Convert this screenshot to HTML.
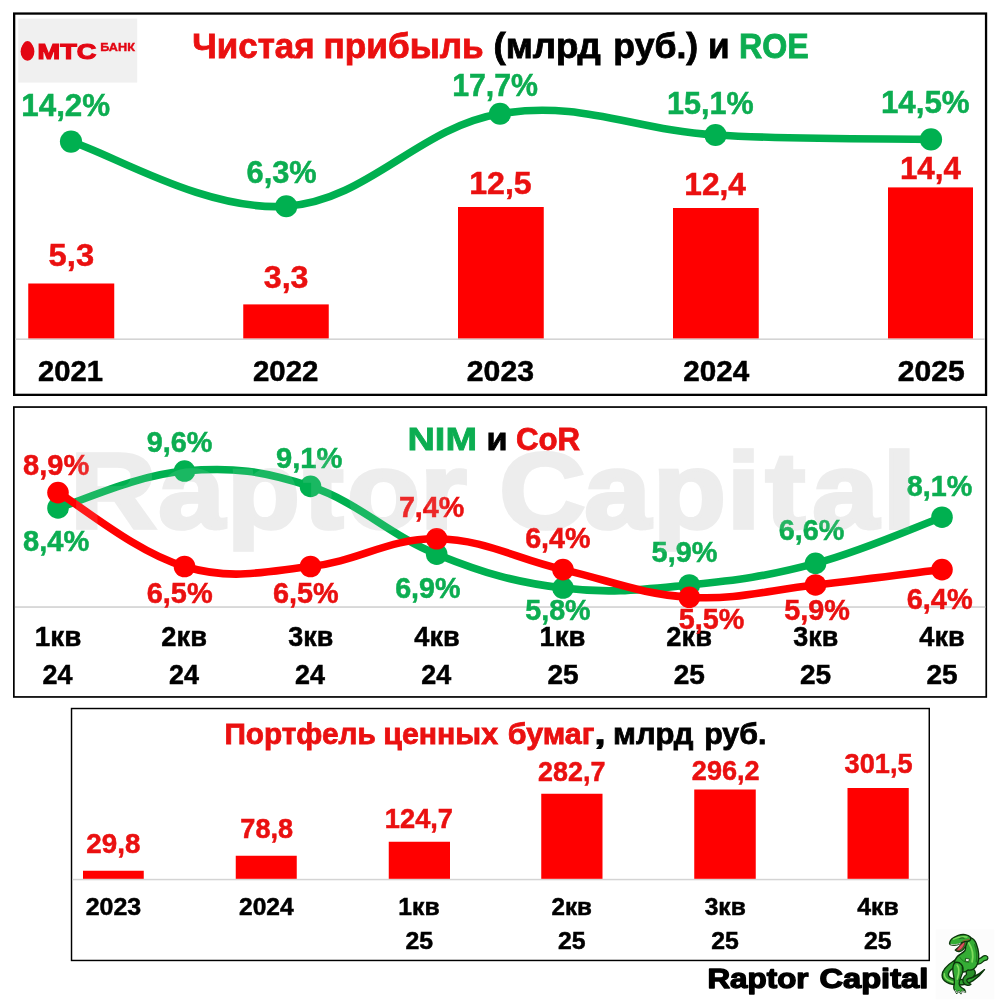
<!DOCTYPE html>
<html lang="ru"><head><meta charset="utf-8"><title>МТС Банк</title>
<style>
html,body{margin:0;padding:0;background:#fff;}
svg{display:block;}
text{font-family:"Liberation Sans",sans-serif;font-weight:700;}
</style></head><body>
<svg width="1000" height="1000" viewBox="0 0 1000 1000">

<rect width="1000" height="1000" fill="#fff"/>
<text transform="scale(1.12 1)" x="62.84 141.36 202.74 271.14 309.88 375.29 418.67 445.85 521.68 583.06 649.04 683.57 725.24 788.28" y="527.70" font-size="106.69" fill="#ebebeb" stroke="#ebebeb" stroke-width="3.6" stroke-linejoin="miter">Raptor Capital</text>
<rect x="14.15" y="13.55" width="971.90" height="381.30" fill="none" stroke="#000" stroke-width="2.3"/>
<rect x="18.30" y="18.60" width="118.90" height="64.00" fill="#f0f0f0"/>
<ellipse cx="27.5" cy="51.5" rx="6.9" ry="9.3" fill="#e30613"/>
<ellipse cx="27.5" cy="48" rx="5.2" ry="7" fill="#e30613"/>
<text x="37.61" y="58.70" font-size="22.67" textLength="58.76" lengthAdjust="spacingAndGlyphs" fill="#e30613" stroke="#e30613" stroke-width="1.2">МТС</text>
<text x="100.28" y="50.60" font-size="11.34" textLength="34.61" lengthAdjust="spacingAndGlyphs" fill="#e30613" stroke="#e30613" stroke-width="0.4">БАНК</text>
<text x="192.33" y="58.20" font-size="34.30" textLength="122.30" lengthAdjust="spacingAndGlyphs" fill="#ea1010" stroke="#ea1010" stroke-width="0.8">Чистая</text>
<text x="323.54" y="58.20" font-size="34.30" textLength="160.16" lengthAdjust="spacingAndGlyphs" fill="#ea1010" stroke="#ea1010" stroke-width="0.8">прибыль</text>
<text x="493.45" y="58.20" font-size="34.30" textLength="107.31" lengthAdjust="spacingAndGlyphs" fill="#000000" stroke="#000000" stroke-width="0.8">(млрд</text>
<text x="613.35" y="58.20" font-size="34.30" textLength="84.87" lengthAdjust="spacingAndGlyphs" fill="#000000" stroke="#000000" stroke-width="0.8">руб.)</text>
<text x="707.95" y="58.20" font-size="34.30" textLength="21.62" lengthAdjust="spacingAndGlyphs" fill="#000000" stroke="#000000" stroke-width="0.8">и</text>
<text x="739.01" y="58.20" font-size="35.17" textLength="69.78" lengthAdjust="spacingAndGlyphs" fill="#0cad51" stroke="#0cad51" stroke-width="0.8">ROE</text>
<rect x="15.40" y="338.40" width="969.60" height="1.60" fill="#d4d4d4"/>
<rect x="28.25" y="283.50" width="86.00" height="54.90" fill="#ff0000"/>
<rect x="243.25" y="304.40" width="85.50" height="34.00" fill="#ff0000"/>
<rect x="458.00" y="207.00" width="85.75" height="131.40" fill="#ff0000"/>
<rect x="673.00" y="208.00" width="85.75" height="130.40" fill="#ff0000"/>
<rect x="888.00" y="187.40" width="85.00" height="151.00" fill="#ff0000"/>
<text x="48.62" y="266.20" font-size="31.98" textLength="45.51" lengthAdjust="spacingAndGlyphs" fill="#ea1010" stroke="#ea1010" stroke-width="0.5">5,3</text>
<text x="263.81" y="288.00" font-size="31.98" textLength="44.67" lengthAdjust="spacingAndGlyphs" fill="#ea1010" stroke="#ea1010" stroke-width="0.5">3,3</text>
<text x="469.23" y="193.75" font-size="31.98" textLength="62.51" lengthAdjust="spacingAndGlyphs" fill="#ea1010" stroke="#ea1010" stroke-width="0.5">12,5</text>
<text x="684.25" y="195.00" font-size="31.98" textLength="61.70" lengthAdjust="spacingAndGlyphs" fill="#ea1010" stroke="#ea1010" stroke-width="0.5">12,4</text>
<text x="899.89" y="178.50" font-size="31.98" textLength="61.02" lengthAdjust="spacingAndGlyphs" fill="#ea1010" stroke="#ea1010" stroke-width="0.5">14,4</text>
<text x="38.00" y="381.00" font-size="29.07" textLength="64.95" lengthAdjust="spacingAndGlyphs" fill="#000000" stroke="#000000" stroke-width="0.5">2021</text>
<text x="252.99" y="381.00" font-size="29.07" textLength="65.40" lengthAdjust="spacingAndGlyphs" fill="#000000" stroke="#000000" stroke-width="0.5">2022</text>
<text x="466.82" y="381.00" font-size="29.07" textLength="67.23" lengthAdjust="spacingAndGlyphs" fill="#000000" stroke="#000000" stroke-width="0.5">2023</text>
<text x="683.24" y="381.00" font-size="29.07" textLength="65.98" lengthAdjust="spacingAndGlyphs" fill="#000000" stroke="#000000" stroke-width="0.5">2024</text>
<text x="897.73" y="381.00" font-size="29.07" textLength="67.00" lengthAdjust="spacingAndGlyphs" fill="#000000" stroke="#000000" stroke-width="0.5">2025</text>
<path d="M71.00,141.60 C111.90,153.88 204.74,211.54 286.25,206.25 C367.76,200.96 418.44,127.29 500.00,113.75 C581.56,100.21 633.61,130.13 715.50,135.00 C797.39,139.87 890.05,138.56 931.00,139.40" fill="none" stroke="#00b050" stroke-width="7.6" stroke-linecap="round" stroke-linejoin="round"/>
<circle cx="71.00" cy="141.60" r="11.1" fill="#00b050"/>
<circle cx="286.25" cy="206.25" r="11.1" fill="#00b050"/>
<circle cx="500.00" cy="113.75" r="11.1" fill="#00b050"/>
<circle cx="715.50" cy="135.00" r="11.1" fill="#00b050"/>
<circle cx="931.00" cy="139.40" r="11.1" fill="#00b050"/>
<text x="21.29" y="116.00" font-size="31.98" textLength="88.88" lengthAdjust="spacingAndGlyphs" fill="#0cad51" stroke="#0cad51" stroke-width="0.5">14,2%</text>
<text x="246.59" y="182.50" font-size="31.98" textLength="70.16" lengthAdjust="spacingAndGlyphs" fill="#0cad51" stroke="#0cad51" stroke-width="0.5">6,3%</text>
<text x="452.14" y="96.25" font-size="31.98" textLength="85.92" lengthAdjust="spacingAndGlyphs" fill="#0cad51" stroke="#0cad51" stroke-width="0.5">17,7%</text>
<text x="667.11" y="113.75" font-size="31.98" textLength="86.65" lengthAdjust="spacingAndGlyphs" fill="#0cad51" stroke="#0cad51" stroke-width="0.5">15,1%</text>
<text x="880.89" y="113.00" font-size="31.98" textLength="88.82" lengthAdjust="spacingAndGlyphs" fill="#0cad51" stroke="#0cad51" stroke-width="0.5">14,5%</text>
<rect x="13.85" y="407.05" width="972.40" height="289.90" fill="none" stroke="#000" stroke-width="1.7"/>
<rect x="15.00" y="606.20" width="970.30" height="1.70" fill="#d4d4d4"/>
<text x="407.46" y="450.00" font-size="32.27" textLength="69.54" lengthAdjust="spacingAndGlyphs" fill="#0cad51" stroke="#0cad51" stroke-width="0.8">NIM</text>
<text x="486.47" y="450.00" font-size="31.10" textLength="21.07" lengthAdjust="spacingAndGlyphs" fill="#000000" stroke="#000000" stroke-width="0.8">и</text>
<text x="515.97" y="450.00" font-size="32.27" textLength="64.22" lengthAdjust="spacingAndGlyphs" fill="#ea1010" stroke="#ea1010" stroke-width="0.8">CoR</text>
<text x="34.86" y="646.30" font-size="28.34" textLength="46.55" lengthAdjust="spacingAndGlyphs" fill="#000000" stroke="#000000" stroke-width="0.5">1кв</text>
<text x="161.33" y="646.30" font-size="28.34" textLength="45.62" lengthAdjust="spacingAndGlyphs" fill="#000000" stroke="#000000" stroke-width="0.5">2кв</text>
<text x="288.36" y="646.30" font-size="28.34" textLength="44.96" lengthAdjust="spacingAndGlyphs" fill="#000000" stroke="#000000" stroke-width="0.5">3кв</text>
<text x="414.32" y="646.30" font-size="28.34" textLength="45.37" lengthAdjust="spacingAndGlyphs" fill="#000000" stroke="#000000" stroke-width="0.5">4кв</text>
<text x="539.62" y="646.30" font-size="28.34" textLength="45.87" lengthAdjust="spacingAndGlyphs" fill="#000000" stroke="#000000" stroke-width="0.5">1кв</text>
<text x="666.33" y="646.30" font-size="28.34" textLength="45.62" lengthAdjust="spacingAndGlyphs" fill="#000000" stroke="#000000" stroke-width="0.5">2кв</text>
<text x="793.36" y="646.30" font-size="28.34" textLength="44.96" lengthAdjust="spacingAndGlyphs" fill="#000000" stroke="#000000" stroke-width="0.5">3кв</text>
<text x="919.32" y="646.30" font-size="28.34" textLength="45.37" lengthAdjust="spacingAndGlyphs" fill="#000000" stroke="#000000" stroke-width="0.5">4кв</text>
<text x="42.55" y="683.70" font-size="28.34" textLength="29.94" lengthAdjust="spacingAndGlyphs" fill="#000000" stroke="#000000" stroke-width="0.5">24</text>
<text x="169.05" y="683.70" font-size="28.34" textLength="29.94" lengthAdjust="spacingAndGlyphs" fill="#000000" stroke="#000000" stroke-width="0.5">24</text>
<text x="295.05" y="683.70" font-size="28.34" textLength="29.94" lengthAdjust="spacingAndGlyphs" fill="#000000" stroke="#000000" stroke-width="0.5">24</text>
<text x="421.25" y="683.70" font-size="28.34" textLength="29.94" lengthAdjust="spacingAndGlyphs" fill="#000000" stroke="#000000" stroke-width="0.5">24</text>
<text x="547.49" y="683.70" font-size="28.34" textLength="31.17" lengthAdjust="spacingAndGlyphs" fill="#000000" stroke="#000000" stroke-width="0.5">25</text>
<text x="673.79" y="683.70" font-size="28.34" textLength="31.17" lengthAdjust="spacingAndGlyphs" fill="#000000" stroke="#000000" stroke-width="0.5">25</text>
<text x="799.99" y="683.70" font-size="28.34" textLength="31.17" lengthAdjust="spacingAndGlyphs" fill="#000000" stroke="#000000" stroke-width="0.5">25</text>
<text x="926.49" y="683.70" font-size="28.34" textLength="31.17" lengthAdjust="spacingAndGlyphs" fill="#000000" stroke="#000000" stroke-width="0.5">25</text>
<path d="M58.00,507.98 C82.03,500.96 136.53,475.12 184.50,471.02 C232.47,466.92 262.58,470.62 310.50,486.42 C358.42,502.22 388.72,534.87 436.70,554.18 C484.68,573.49 515.01,582.21 563.00,588.06 C610.99,593.91 641.32,589.66 689.30,584.98 C737.27,580.30 767.49,576.29 815.50,563.42 C863.51,550.55 917.97,526.00 942.00,517.22" fill="none" stroke="#00b050" stroke-width="7.6" stroke-linecap="round" stroke-linejoin="round"/>
<circle cx="58.00" cy="507.98" r="10.8" fill="#00b050"/>
<circle cx="184.50" cy="471.02" r="10.8" fill="#00b050"/>
<circle cx="310.50" cy="486.42" r="10.8" fill="#00b050"/>
<circle cx="436.70" cy="554.18" r="10.8" fill="#00b050"/>
<circle cx="563.00" cy="588.06" r="10.8" fill="#00b050"/>
<circle cx="689.30" cy="584.98" r="10.8" fill="#00b050"/>
<circle cx="815.50" cy="563.42" r="10.8" fill="#00b050"/>
<circle cx="942.00" cy="517.22" r="10.8" fill="#00b050"/>
<text x="23.04" y="550.75" font-size="30.09" textLength="66.23" lengthAdjust="spacingAndGlyphs" fill="#0cad51" stroke="#0cad51" stroke-width="0.5">8,4%</text>
<text x="146.70" y="452.00" font-size="30.09" textLength="65.72" lengthAdjust="spacingAndGlyphs" fill="#0cad51" stroke="#0cad51" stroke-width="0.5">9,6%</text>
<text x="276.00" y="467.50" font-size="30.09" textLength="66.39" lengthAdjust="spacingAndGlyphs" fill="#0cad51" stroke="#0cad51" stroke-width="0.5">9,1%</text>
<text x="395.16" y="597.50" font-size="30.09" textLength="65.40" lengthAdjust="spacingAndGlyphs" fill="#0cad51" stroke="#0cad51" stroke-width="0.5">6,9%</text>
<text x="525.22" y="620.00" font-size="30.09" textLength="65.35" lengthAdjust="spacingAndGlyphs" fill="#0cad51" stroke="#0cad51" stroke-width="0.5">5,8%</text>
<text x="651.61" y="561.50" font-size="30.09" textLength="65.88" lengthAdjust="spacingAndGlyphs" fill="#0cad51" stroke="#0cad51" stroke-width="0.5">5,9%</text>
<text x="778.67" y="539.50" font-size="30.09" textLength="65.68" lengthAdjust="spacingAndGlyphs" fill="#0cad51" stroke="#0cad51" stroke-width="0.5">6,6%</text>
<text x="906.81" y="495.75" font-size="30.09" textLength="65.59" lengthAdjust="spacingAndGlyphs" fill="#0cad51" stroke="#0cad51" stroke-width="0.5">8,1%</text>
<text x="23.04" y="475.00" font-size="30.09" textLength="66.23" lengthAdjust="spacingAndGlyphs" fill="#ea1010" stroke="#ea1010" stroke-width="0.5">8,9%</text>
<text x="146.66" y="603.00" font-size="30.09" textLength="65.96" lengthAdjust="spacingAndGlyphs" fill="#ea1010" stroke="#ea1010" stroke-width="0.5">6,5%</text>
<text x="272.92" y="603.00" font-size="30.09" textLength="65.68" lengthAdjust="spacingAndGlyphs" fill="#ea1010" stroke="#ea1010" stroke-width="0.5">6,5%</text>
<text x="398.90" y="517.00" font-size="30.09" textLength="65.42" lengthAdjust="spacingAndGlyphs" fill="#ea1010" stroke="#ea1010" stroke-width="0.5">7,4%</text>
<text x="525.16" y="548.00" font-size="30.09" textLength="65.40" lengthAdjust="spacingAndGlyphs" fill="#ea1010" stroke="#ea1010" stroke-width="0.5">6,4%</text>
<text x="678.81" y="629.00" font-size="30.09" textLength="65.60" lengthAdjust="spacingAndGlyphs" fill="#ea1010" stroke="#ea1010" stroke-width="0.5">5,5%</text>
<text x="784.21" y="620.00" font-size="30.09" textLength="65.71" lengthAdjust="spacingAndGlyphs" fill="#ea1010" stroke="#ea1010" stroke-width="0.5">5,9%</text>
<text x="906.66" y="608.75" font-size="30.09" textLength="65.96" lengthAdjust="spacingAndGlyphs" fill="#ea1010" stroke="#ea1010" stroke-width="0.5">6,4%</text>
<path d="M58.00,492.58 C82.03,506.62 136.53,552.46 184.50,566.50 C232.47,580.54 262.58,571.77 310.50,566.50 C358.42,561.23 388.72,538.19 436.70,538.78 C484.68,539.37 515.01,558.46 563.00,569.58 C610.99,580.70 641.32,594.37 689.30,597.30 C737.27,600.23 767.49,590.25 815.50,584.98 C863.51,579.71 917.97,572.51 942.00,569.58" fill="none" stroke="#ff0000" stroke-width="7.6" stroke-linecap="round" stroke-linejoin="round"/>
<circle cx="58.00" cy="492.58" r="10.8" fill="#ff0000"/>
<circle cx="184.50" cy="566.50" r="10.8" fill="#ff0000"/>
<circle cx="310.50" cy="566.50" r="10.8" fill="#ff0000"/>
<circle cx="436.70" cy="538.78" r="10.8" fill="#ff0000"/>
<circle cx="563.00" cy="569.58" r="10.8" fill="#ff0000"/>
<circle cx="689.30" cy="597.30" r="10.8" fill="#ff0000"/>
<circle cx="815.50" cy="584.98" r="10.8" fill="#ff0000"/>
<circle cx="942.00" cy="569.58" r="10.8" fill="#ff0000"/>
<text transform="scale(1.12 1)" x="62.84 141.36 202.74 271.14 309.88 375.29 418.67 445.85 521.68 583.06 649.04 683.57 725.24 788.28" y="527.70" font-size="106.69" fill="#ffffff" stroke="#ffffff" stroke-width="3.6" stroke-linejoin="miter" opacity="0.1">Raptor Capital</text>
<rect x="71.52" y="708.52" width="857.75" height="251.95" fill="none" stroke="#000" stroke-width="1.45"/>
<rect x="72.40" y="878.80" width="855.80" height="1.50" fill="#d4d4d4"/>
<text x="224.40" y="744.20" font-size="30.38" textLength="151.44" lengthAdjust="spacingAndGlyphs" fill="#ea1010" stroke="#ea1010" stroke-width="0.8">Портфель</text>
<text x="383.28" y="744.20" font-size="30.38" textLength="114.72" lengthAdjust="spacingAndGlyphs" fill="#ea1010" stroke="#ea1010" stroke-width="0.8">ценных</text>
<text x="507.71" y="744.20" font-size="30.38" textLength="86.76" lengthAdjust="spacingAndGlyphs" fill="#ea1010" stroke="#ea1010" stroke-width="0.8">бумаг</text>
<text x="594.25" y="744.20" font-size="30.38" textLength="11.60" lengthAdjust="spacingAndGlyphs" fill="#000000" stroke="#000000" stroke-width="0.8">,</text>
<text x="613.04" y="744.20" font-size="30.38" textLength="80.37" lengthAdjust="spacingAndGlyphs" fill="#000000" stroke="#000000" stroke-width="0.8">млрд</text>
<text x="704.16" y="744.20" font-size="30.38" textLength="62.22" lengthAdjust="spacingAndGlyphs" fill="#000000" stroke="#000000" stroke-width="0.8">руб.</text>
<rect x="83.00" y="870.75" width="60.75" height="8.05" fill="#ff0000"/>
<rect x="235.75" y="855.75" width="61.00" height="23.05" fill="#ff0000"/>
<rect x="388.75" y="841.75" width="61.25" height="37.05" fill="#ff0000"/>
<rect x="541.25" y="793.75" width="61.25" height="85.05" fill="#ff0000"/>
<rect x="694.25" y="789.50" width="61.50" height="89.30" fill="#ff0000"/>
<rect x="847.50" y="788.00" width="61.25" height="90.80" fill="#ff0000"/>
<text x="86.33" y="853.00" font-size="26.74" textLength="54.08" lengthAdjust="spacingAndGlyphs" fill="#ea1010" stroke="#ea1010" stroke-width="0.5">29,8</text>
<text x="240.33" y="838.00" font-size="26.74" textLength="52.77" lengthAdjust="spacingAndGlyphs" fill="#ea1010" stroke="#ea1010" stroke-width="0.5">78,8</text>
<text x="384.89" y="827.50" font-size="26.74" textLength="68.14" lengthAdjust="spacingAndGlyphs" fill="#ea1010" stroke="#ea1010" stroke-width="0.5">124,7</text>
<text x="538.13" y="781.25" font-size="26.74" textLength="67.26" lengthAdjust="spacingAndGlyphs" fill="#ea1010" stroke="#ea1010" stroke-width="0.5">282,7</text>
<text x="691.86" y="779.50" font-size="26.74" textLength="67.78" lengthAdjust="spacingAndGlyphs" fill="#ea1010" stroke="#ea1010" stroke-width="0.5">296,2</text>
<text x="844.62" y="772.50" font-size="26.74" textLength="67.96" lengthAdjust="spacingAndGlyphs" fill="#ea1010" stroke="#ea1010" stroke-width="0.5">301,5</text>
<text x="85.72" y="915.30" font-size="24.42" textLength="55.49" lengthAdjust="spacingAndGlyphs" fill="#000000" stroke="#000000" stroke-width="0.5">2023</text>
<text x="238.99" y="915.30" font-size="24.42" textLength="54.59" lengthAdjust="spacingAndGlyphs" fill="#000000" stroke="#000000" stroke-width="0.5">2024</text>
<text x="398.25" y="915.20" font-size="24.42" textLength="41.37" lengthAdjust="spacingAndGlyphs" fill="#000000" stroke="#000000" stroke-width="0.5">1кв</text>
<text x="405.41" y="948.50" font-size="24.42" textLength="27.62" lengthAdjust="spacingAndGlyphs" fill="#000000" stroke="#000000" stroke-width="0.5">25</text>
<text x="551.51" y="915.20" font-size="24.42" textLength="40.50" lengthAdjust="spacingAndGlyphs" fill="#000000" stroke="#000000" stroke-width="0.5">2кв</text>
<text x="557.91" y="948.50" font-size="24.42" textLength="27.62" lengthAdjust="spacingAndGlyphs" fill="#000000" stroke="#000000" stroke-width="0.5">25</text>
<text x="704.66" y="915.20" font-size="24.42" textLength="41.14" lengthAdjust="spacingAndGlyphs" fill="#000000" stroke="#000000" stroke-width="0.5">3кв</text>
<text x="711.28" y="948.50" font-size="24.42" textLength="27.62" lengthAdjust="spacingAndGlyphs" fill="#000000" stroke="#000000" stroke-width="0.5">25</text>
<text x="857.30" y="915.20" font-size="24.42" textLength="41.49" lengthAdjust="spacingAndGlyphs" fill="#000000" stroke="#000000" stroke-width="0.5">4кв</text>
<text x="864.03" y="948.50" font-size="24.42" textLength="27.62" lengthAdjust="spacingAndGlyphs" fill="#000000" stroke="#000000" stroke-width="0.5">25</text>
<text x="707.40" y="988.10" font-size="26.89" textLength="101.15" lengthAdjust="spacingAndGlyphs" fill="#000" stroke="#000" stroke-width="1.3" stroke-linejoin="round">Raptor</text>
<text x="819.42" y="988.10" font-size="26.89" textLength="108.84" lengthAdjust="spacingAndGlyphs" fill="#000" stroke="#000" stroke-width="1.3" stroke-linejoin="round">Capital</text>
<g transform="translate(935,925) scale(0.075)" stroke-linejoin="round" stroke-linecap="round">
<rect x="10" y="60" width="780" height="930" fill="#fcfcfc" stroke="none"/>
<!-- tail -->
<path d="M260,470 C170,530 95,600 95,670 C95,750 190,800 320,800 C450,800 580,710 660,595 C580,670 470,725 340,728 C240,730 170,700 180,650 C188,610 230,580 280,560 Z" fill="#2fa02f" stroke="#0c360c" stroke-width="19"/>
<path d="M125,650 C120,720 200,765 310,768" fill="none" stroke="#7fdc5c" stroke-width="19"/>
<!-- back leg -->
<path d="M470,560 C540,590 560,650 510,690 C480,715 440,705 425,730 C415,760 450,775 480,790 C450,815 390,805 375,760 C365,720 390,680 420,660 C410,620 420,580 470,560 Z" fill="#2a912a" stroke="#0c360c" stroke-width="17"/>
<!-- arm -->
<path d="M560,440 C600,465 615,440 635,420 C665,395 710,410 705,445 C700,478 668,468 650,480 C630,500 605,530 565,520 Z" fill="#3cb83c" stroke="#0c360c" stroke-width="17"/>
<!-- body + neck -->
<path d="M400,200 C450,140 520,170 550,250 C580,330 595,430 570,510 C550,570 500,610 440,600 C400,640 330,640 290,600 C240,560 250,480 290,430 C320,390 370,380 400,340 C420,300 400,250 400,200 Z" fill="#35ad35" stroke="#0c360c" stroke-width="19"/>
<path d="M450,240 C490,300 515,400 495,490" fill="none" stroke="#7fdc5c" stroke-width="24"/>
<path d="M530,260 C555,340 565,420 550,490" fill="none" stroke="#1f7a1f" stroke-width="17"/>
<path d="M330,430 C350,470 400,500 450,500" fill="none" stroke="#1f7a1f" stroke-width="12"/>
<path d="M415,445 l45,8 l-12,36 l-40,-6 Z" fill="#eaf6e2" stroke="#0c360c" stroke-width="9"/>
<!-- front leg -->
<path d="M270,500 C330,485 385,540 372,610 C360,680 322,720 322,780 C322,820 352,840 392,858 L408,895 L362,880 L346,915 L316,880 L290,912 L268,872 C238,860 248,820 258,780 C264,720 238,650 238,590 C238,550 250,515 270,500 Z" fill="#35ad35" stroke="#0c360c" stroke-width="18"/>
<path d="M295,535 C325,570 322,640 298,720" fill="none" stroke="#7fdc5c" stroke-width="22"/>
<path d="M352,560 C360,620 335,680 312,740" fill="none" stroke="#1f7a1f" stroke-width="12"/>
<path d="M272,872 L290,906 L316,879 L346,910 L362,879 L402,892" fill="none" stroke="#f6f6f6" stroke-width="10"/>
<!-- lower jaw + mouth -->
<path d="M270,335 C300,365 345,360 375,328 C405,296 425,260 432,220 L390,210 C360,250 318,300 270,335 Z" fill="#2a912a" stroke="#0c360c" stroke-width="17"/>
<path d="M288,332 C318,300 350,250 396,218 C402,256 376,300 346,326 C326,342 304,344 288,332 Z" fill="#dc5560" stroke="#5a1015" stroke-width="8"/>
<!-- head -->
<path d="M195,235 C200,200 250,160 310,138 C370,118 440,125 470,160 C490,190 470,215 430,220 C400,215 370,225 340,245 C300,268 240,275 205,262 C195,255 192,245 195,235 Z" fill="#35ad35" stroke="#0c360c" stroke-width="19"/>
<path d="M212,258 C250,268 300,262 340,242" fill="none" stroke="#f6f6f6" stroke-width="9"/>
<path d="M245,190 C300,160 360,150 425,160" fill="none" stroke="#7fdc5c" stroke-width="18"/>
<path d="M330,180 C350,168 372,168 388,178" fill="none" stroke="#0c360c" stroke-width="10"/>
<path d="M370,215 C400,200 430,200 455,190" fill="none" stroke="#b3402a" stroke-width="10"/>
</g>

</svg>
</body></html>
